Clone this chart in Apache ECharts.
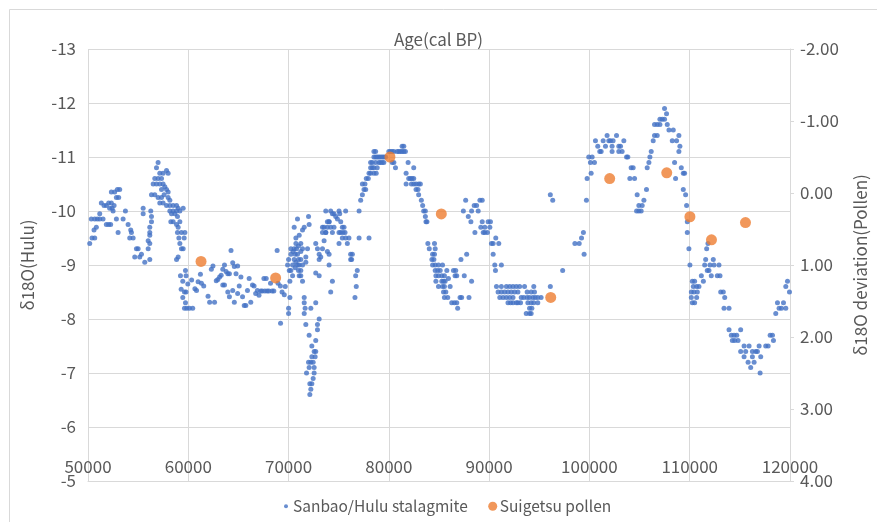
<!DOCTYPE html>
<html>
<head>
<meta charset="utf-8">
<script src="https://cdn.jsdelivr.net/npm/echarts@6/dist/echarts.min.js"></script>
<style>
html,body{margin:0;padding:0;background:#fff;}
#chart{width:877px;height:522px;}
</style>
</head>
<body>
<div id="chart"></div>
<script>
// ---- Data (age cal BP, value) ----
var xTicks = [50000, 60000, 70000, 80000, 90000, 100000, 110000, 120000];
var leftTicks = [-13, -12, -11, -10, -9, -8, -7, -6, -5];
var rightTicks = [-2, -1, 0, 1, 2, 3, 4];

// Sanbao/Hulu stalagmite δ18O, 50-60 ka
var hulu1 = [
[50170,-9.4],[50400,-9.5],[50670,-9.5],[50600,-9.65],[50830,-9.7],[50330,-9.85],[50670,-9.85],[50930,-9.85],[51170,-9.85],[51500,-9.85],
[51170,-9.95],[51330,-10.15],[51600,-10.1],[51830,-10.1],[52060,-10.15],[52330,-10.15],[52600,-10.1],[52400,-10.05],[52160,-10.05],[52500,-10.0],
[52330,-10.35],[52660,-10.35],[52930,-10.4],[53160,-10.4],[52830,-10.25],[53060,-10.25],[51830,-9.75],[52060,-9.75],[52260,-9.75],[52830,-9.85],
[53500,-9.85],[53730,-10.0],[53000,-9.6],[54000,-9.75],[54260,-9.65],[54330,-9.6],[54160,-9.5],[54500,-9.5],[54830,-9.3],[55000,-9.3],
[54660,-9.15],[55160,-9.15],[55330,-9.2],[55660,-9.05],[56160,-9.1],[55500,-9.95],[55500,-10.05],[56000,-9.45],[56160,-9.55],[56160,-9.6],
[56160,-9.7],[56330,-9.8],[56330,-9.9],[56260,-10.0],[56000,-9.3],[56160,-9.4],
[56990,-10.9],[56830,-10.8],[57160,-10.7],[57490,-10.7],[57830,-10.75],[57990,-10.7],[56660,-10.6],[56990,-10.6],[57330,-10.6],[56500,-10.5],
[56830,-10.5],[57160,-10.5],[57490,-10.5],[57660,-10.45],[57330,-10.4],[57830,-10.4],[57990,-10.35],[56330,-10.3],[56660,-10.3],[56990,-10.25],
[57330,-10.25],[57590,-10.3],[57990,-10.25],[58160,-10.2],[57160,-10.15],[57490,-10.15],[57830,-10.1],[58160,-10.1],[58490,-10.1],[58830,-10.1],
[58990,-10.05],[58160,-10.0],[58490,-10.0],[58830,-10.0],[59160,-10.0],[59490,-10.05],[58330,-9.95],[58660,-9.95],[58920,-9.9],[58260,-9.8],
[58490,-9.8],[58830,-9.75],[59160,-9.8],[58990,-9.7],[58920,-9.6],[59320,-9.6],[59660,-9.6],[59060,-9.5],[59160,-9.4],[59320,-9.3],
[59490,-9.3],[58990,-9.15],[58830,-9.1],[59590,-9.5],
[59220,-8.8],[59720,-8.9],[59780,-8.8],[59450,-8.7],[59950,-8.65],[59290,-8.55],[59620,-8.5],[59780,-8.5],[59450,-8.4],[59720,-8.3],
[59620,-8.2],[59850,-8.2],[60110,-8.2],[60440,-8.2],[60330,-8.72]
];
// 60-69.5 ka
var hulu2 = [
[61210,-8.83],[60980,-8.69],[61310,-8.66],[61540,-8.61],[60660,-8.56],[60820,-8.53],[61970,-8.42],[62130,-8.31],[62300,-8.92],[62460,-8.98],
[62620,-8.31],[62790,-8.71],[62950,-8.73],[63120,-8.78],[63280,-8.81],[63440,-8.92],[63610,-9.0],[63770,-8.88],[63940,-8.84],[64100,-8.84],
[64260,-9.27],[64430,-9.04],[64590,-8.97],[64920,-8.98],[64760,-8.84],[63440,-8.63],[63610,-8.63],[63940,-8.5],[64100,-8.41],[64430,-8.53],
[64590,-8.31],[64920,-8.47],[65080,-8.61],[65250,-8.78],[65410,-8.41],[65580,-8.25],[65740,-8.25],[65900,-8.53],[66070,-8.75],[66230,-8.31],
[66400,-8.63],[66560,-8.61],[66720,-8.47],[66890,-8.53],[67050,-8.44],[67220,-8.52],[67380,-8.52],[67540,-8.75],[67640,-8.52],[67770,-8.75],
[67870,-8.52],[68040,-8.52],[68200,-8.66],[68360,-8.52],[68530,-8.52],[68860,-9.27],[68950,-8.66],[69180,-8.61],[69350,-8.5],[69200,-7.92]
];
// 69.5-77 ka
var hulu3 = [
[69670,-8.6],[69570,-8.45],[70130,-8.4],[70000,-8.2],[70000,-8.1],[69900,-9.0],[70070,-8.9],[70230,-8.9],[70130,-8.7],[70400,-8.8],
[70000,-9.1],[70230,-9.2],[70460,-9.25],[70230,-9.3],[70560,-9.3],[70730,-9.4],[70790,-9.3],[70990,-9.35],[71220,-9.4],[71390,-9.3],
[71220,-9.25],[70660,-9.2],[70890,-9.2],[70990,-9.1],[71220,-9.1],[71060,-9.0],[71390,-9.0],[71220,-8.9],[71060,-8.8],[71220,-8.8],
[71390,-8.7],[70400,-9.0],[70560,-9.1],[70730,-9.05],[70890,-9.0],[70660,-8.95],[70990,-8.9],[71720,-9.15],[71720,-9.05],[71890,-9.3],
[70730,-9.5],[71060,-9.55],[71390,-9.65],[71560,-9.7],[72050,-9.75],[71990,-9.9],[70890,-9.85],[70560,-9.7],
[71560,-8.4],[71560,-8.3],[71650,-8.2],[71560,-8.1],[72220,-8.2],[72710,-8.3],[73050,-8.0],[72880,-7.9],[72880,-7.8],[71720,-7.9],
[72050,-7.7],[72710,-7.6],[72320,-7.5],[72550,-7.4],[72710,-7.4],[72320,-7.3],[72650,-7.3],[71990,-7.2],[72220,-7.2],[72450,-7.2],
[72050,-7.1],[72550,-7.1],[71790,-7.0],[72550,-7.0],[72450,-6.9],[72120,-6.8],[72320,-6.8],[72220,-6.7],[72120,-6.6],
[72710,-8.85],[73050,-8.8],[72710,-9.4],[72880,-9.3],[73050,-9.2],[73050,-9.1],[73380,-9.3],[73210,-9.15],[73540,-9.45],[73380,-9.6],
[73710,-9.6],[73870,-9.7],[74040,-9.8],[74200,-10.0],[73710,-10.0],[73870,-9.8],[74040,-9.8],[74370,-9.95],[74530,-9.95],[74700,-9.9],
[75030,-10.0],[75100,-9.95],[74870,-9.85],[75200,-9.8],[75360,-9.7],[75530,-9.7],[75030,-9.6],[75200,-9.6],[74530,-9.7],[74370,-9.6],
[73380,-9.7],[73540,-9.7],[74200,-9.7],[73710,-9.6],[73870,-9.25],[74040,-9.2],[75030,-9.4],[75360,-9.5],[75690,-9.5],[75860,-9.4],
[75630,-9.6],[75430,-9.6],[75690,-10.0],[76020,-9.5],[76190,-9.2],[76360,-9.2],[76290,-9.1],[76190,-9.1],[74040,-9.0],[74370,-8.7],
[74200,-8.5],[76690,-8.8],[76850,-8.9],[76750,-8.6],[76620,-8.4]
];
// 77-84 ka
var hulu4 = [
[77030,-10.0],[77190,-10.2],[77360,-10.3],[77520,-10.4],[77690,-10.4],[77360,-10.5],[77620,-10.5],[77750,-10.6],[77950,-10.6],[78020,-10.7],
[78180,-10.7],[78510,-10.7],[78740,-10.7],[78840,-10.8],[78180,-10.8],[78350,-10.8],[78510,-10.8],[78180,-10.9],[78350,-10.9],[78680,-10.9],
[79010,-10.9],[79170,-10.9],[79340,-10.9],[79500,-10.9],[78510,-11.0],[78680,-11.0],[78840,-11.0],[79010,-11.0],[79170,-11.0],[79340,-11.0],
[79500,-11.0],[79670,-11.0],[78510,-11.1],[78680,-11.1],[80000,-11.1],[80170,-11.1],[80330,-11.1],[80500,-11.1],[80330,-10.9],[80500,-10.9],
[80660,-10.8],[80830,-11.1],[80990,-11.1],[81160,-11.1],[81320,-11.1],[81490,-11.1],[81650,-11.1],[81320,-11.2],[81490,-11.2],[81920,-10.9],
[82480,-10.8],[81720,-10.7],[81980,-10.6],[82150,-10.6],[82310,-10.6],[82480,-10.6],[81720,-10.5],[82250,-10.5],[82480,-10.5],[82710,-10.5],
[82970,-10.5],[83140,-10.5],[82710,-10.4],[82910,-10.4],[82970,-10.3],[83240,-10.2],[83370,-10.1],[83470,-10.0],[83640,-10.0],[83640,-9.9],
[83700,-9.8],[83800,-9.8],[77030,-9.5],[78020,-9.5]
];
// 84-99.6 ka
var hulu5 = [
[83890,-9.4],[84030,-9.3],[84550,-9.4],[84620,-9.3],[84360,-9.2],[84550,-9.2],[84290,-9.1],[84490,-9.1],[84360,-9.0],[84620,-9.0],
[84950,-9.0],[85350,-9.0],[84620,-8.9],[84880,-8.9],[85120,-8.9],[84690,-8.8],[84950,-8.8],[85280,-8.8],[85540,-8.8],[84690,-8.7],
[85280,-8.7],[85450,-8.7],[85610,-8.7],[84950,-8.6],[85350,-8.6],[85540,-8.6],[86110,-8.6],[85450,-8.5],[85680,-8.5],[85540,-8.4],
[85870,-8.4],[86270,-8.3],[86530,-8.3],[86770,-8.3],[86860,-8.2],[87100,-8.4],[87260,-8.4],[87990,-8.4],[86600,-8.8],[86440,-8.9],
[86670,-8.9],[86770,-8.8],[85780,-8.9],[85940,-8.75],[87190,-9.1],[87520,-8.8],[87760,-9.2],[88250,-8.7],
[87430,-10.0],[87660,-10.2],[87920,-9.9],[88180,-9.8],[88580,-9.6],[88250,-10.0],[88510,-10.1],[88750,-10.1],[88910,-10.0],[89080,-10.2],
[89310,-10.2],[89310,-9.8],[89170,-9.7],[89410,-9.6],[89570,-9.6],[89830,-9.6],[89570,-9.7],[89900,-9.8],[90130,-9.8],[90070,-9.7],
[90230,-9.4],[90400,-9.4],[90660,-9.5],[90960,-9.4],[90400,-9.2],[90560,-9.0],[90630,-8.9],[91220,-9.0],
[90730,-8.6],[91220,-8.6],[91720,-8.6],[92050,-8.6],[92380,-8.6],[92710,-8.6],[93040,-8.6],[93530,-8.6],[94450,-8.6],[90890,-8.5],
[91220,-8.5],[91550,-8.5],[91880,-8.5],[92210,-8.5],[92540,-8.5],[92870,-8.5],[93790,-8.5],[94190,-8.5],[94520,-8.5],[91060,-8.4],
[91390,-8.4],[91720,-8.4],[92050,-8.4],[92380,-8.4],[93200,-8.4],[93460,-8.4],[93790,-8.4],[94030,-8.4],[94360,-8.4],[94590,-8.4],
[94850,-8.4],[95180,-8.4],[91880,-8.3],[92140,-8.3],[92380,-8.3],[92710,-8.3],[92870,-8.3],[93130,-8.3],[93860,-8.3],[94190,-8.3],
[94450,-8.3],[94850,-8.3],[94030,-8.2],[94260,-8.2],[93700,-8.1],[94030,-8.1],[94190,-8.1],[96100,-8.6],[96100,-10.3],[96340,-10.2],
[97330,-8.9],[98550,-9.4],[98980,-9.4],[99210,-9.5],[99470,-9.2],[99400,-9.6]
];
// 99.6-120 ka
var hulu6 = [
[99700,-10.2],[99770,-10.6],[100170,-10.7],[99930,-11.0],[100270,-11.0],[100100,-10.9],[100500,-10.9],[100600,-11.3],[100830,-11.2],[101030,-11.1],
[101170,-11.1],[101370,-11.3],[101600,-11.2],[101760,-11.4],[101930,-11.3],[102100,-11.3],[102260,-11.2],[102360,-11.3],[102260,-11.1],[102700,-11.4],
[102930,-11.2],[103100,-11.2],[102930,-11.1],[103260,-11.1],[103430,-11.3],[103700,-11.0],[103830,-11.0],[104160,-10.8],[104360,-10.8],[104030,-10.6],
[104500,-10.6],[104760,-10.3],[104930,-10.1],[104700,-10.0],[104930,-10.0],[105160,-10.0],[105260,-10.1],[105430,-10.2],[105690,-10.4],[105760,-10.8],
[105930,-10.9],[106030,-11.0],[106160,-11.1],[106360,-11.3],[106490,-11.4],[106760,-11.4],[106490,-11.6],[106760,-11.6],[107030,-11.7],[107260,-11.7],
[107490,-11.7],[107030,-11.6],[107490,-11.9],[107690,-11.8],[107760,-11.6],[107930,-11.5],[108360,-11.5],[108260,-11.3],[108690,-11.3],[108920,-11.4],
[109020,-11.2],[108920,-11.1],[108490,-10.9],[108590,-10.6],[109160,-10.8],[109360,-10.7],[109490,-10.7],[109360,-10.4],[109590,-10.3],[109690,-10.1],
[109760,-9.8],[109760,-9.6],[109920,-9.3],[110020,-9.0],[110260,-8.7],[110490,-8.7],[110360,-8.6],[110690,-8.6],[110920,-8.6],[110160,-8.5],
[110420,-8.5],[110760,-8.5],[110160,-8.4],[110690,-8.4],[110260,-8.3],[110490,-8.3],[111160,-8.8],[111360,-8.7],[111590,-9.1],[111490,-9.0],
[111750,-8.9],[112020,-9.0],[112350,-9.1],[112420,-9.0],[112920,-9.0],[111920,-8.9],[112150,-8.8],[112750,-8.8],[113020,-8.8],[111690,-9.3],
[111820,-9.4],[113090,-8.5],[113350,-8.5],[113490,-8.4],[113420,-8.2],[113920,-8.2],[113920,-7.8],[114150,-7.7],[114420,-7.7],[114690,-7.7],
[114250,-7.6],[114490,-7.6],[114820,-7.6],[115080,-7.8],[115420,-7.5],[115920,-7.5],[115080,-7.4],[115580,-7.4],[116250,-7.4],[116580,-7.4],
[115420,-7.3],[115820,-7.2],[116250,-7.3],[116420,-7.2],[116750,-7.4],[116920,-7.5],[117080,-7.3],[116080,-7.1],[117020,-7.0],[117580,-7.5],
[117820,-7.5],[118020,-7.7],[118250,-7.7],[118350,-7.6],[118580,-8.1],[118750,-8.3],[118910,-8.2],[119150,-8.2],[119350,-8.3],[119580,-8.2],
[119580,-8.6],[119750,-8.7],[119950,-8.5]
];

// Suigetsu pollen δ18O deviation (right axis)
var pollenAge = [61270, 68710, 80110, 85230, 96140, 102020, 107710, 110020, 112170, 115560];
var pollenDev = [0.95, 1.18, -0.50, 0.29, 1.45, -0.20, -0.28, 0.33, 0.65, 0.41];

var huluData = hulu1.concat(hulu2, hulu3, hulu4, hulu5, hulu6);
var pollenData = pollenAge.map(function (a, i) { return [a, pollenDev[i]]; });

var FONT = "'Noto Sans CJK JP', 'Noto Sans', sans-serif";
var TXT = '#595959';
var GRID = '#d9d9d9';
var FS = 17;

var chart = echarts.init(document.getElementById('chart'), null, {renderer: 'canvas'});
chart.setOption({
  animation: false,
  backgroundColor: '#fff',
  textStyle: {fontFamily: FONT},
  graphic: [{
    type: 'rect', silent: true, z: -10,
    shape: {x: 9.5, y: 9.5, width: 900, height: 600},
    style: {fill: 'none', stroke: GRID, lineWidth: 1}
  }],
  title: {
    text: 'Age(cal BP)', left: 'center', top: 26,
    textStyle: {fontSize: FS, fontWeight: 'normal', color: TXT, fontFamily: FONT}
  },
  legend: {
    bottom: 3, left: 276, itemGap: 20, itemWidth: 10, itemHeight: 10,
    textStyle: {fontSize: 15.5, color: TXT, fontFamily: FONT, padding: [0, 0, 0, -3]},
    data: [
      {name: 'Sanbao/Hulu stalagmite', icon: 'path://M0,0M10,10M3,5A2,2,0,1,1,7,5A2,2,0,1,1,3,5Z'},
      {name: 'Suigetsu pollen', icon: 'path://M0,0M10,10M0.5,5A4.5,4.5,0,1,1,9.5,5A4.5,4.5,0,1,1,0.5,5Z'}
    ]
  },
  grid: {left: 88, right: 83, top: 49, bottom: 41, containLabel: false},
  xAxis: {
    type: 'value', min: xTicks[0], max: xTicks[xTicks.length - 1], interval: 10000,
    axisLine: {show: true, onZero: false, lineStyle: {color: GRID}},
    axisTick: {show: false},
    splitLine: {show: true, lineStyle: {color: GRID}},
    axisLabel: {inside: true, margin: 6, color: TXT, fontSize: FS, fontFamily: FONT,
      formatter: function (v) { return String(v); }}
  },
  yAxis: [{
    type: 'value', min: leftTicks[0], max: leftTicks[leftTicks.length - 1], interval: 1, inverse: true,
    name: 'δ18O(Hulu)', nameLocation: 'middle', nameGap: 52, nameRotate: 90,
    nameTextStyle: {fontSize: FS, color: TXT, fontFamily: FONT},
    axisLine: {show: false}, axisTick: {show: false},
    splitLine: {show: true, lineStyle: {color: GRID}},
    axisLabel: {margin: 12, color: TXT, fontSize: FS, fontFamily: FONT}
  }, {
    type: 'value', min: rightTicks[0], max: rightTicks[rightTicks.length - 1], interval: 1, inverse: true,
    position: 'right',
    name: 'δ18O deviation(Pollen)', nameLocation: 'middle', nameGap: 62, nameRotate: 90,
    nameTextStyle: {fontSize: FS, color: TXT, fontFamily: FONT},
    axisLine: {show: true, lineStyle: {color: GRID}},
    axisTick: {show: true, length: 4, lineStyle: {color: GRID}},
    splitLine: {show: false},
    axisLabel: {margin: 10, color: TXT, fontSize: FS, fontFamily: FONT,
      formatter: function (v) { return v.toFixed(2); }}
  }],
  series: [{
    name: 'Sanbao/Hulu stalagmite', type: 'scatter', yAxisIndex: 0,
    symbol: 'circle', symbolSize: 5,
    itemStyle: {color: '#4472C4'},
    data: huluData
  }, {
    name: 'Suigetsu pollen', type: 'scatter', yAxisIndex: 1,
    symbol: 'circle', symbolSize: 11,
    itemStyle: {color: '#ED7D31'},
    data: pollenData, z: 3
  }]
});
</script>
</body>
</html>
